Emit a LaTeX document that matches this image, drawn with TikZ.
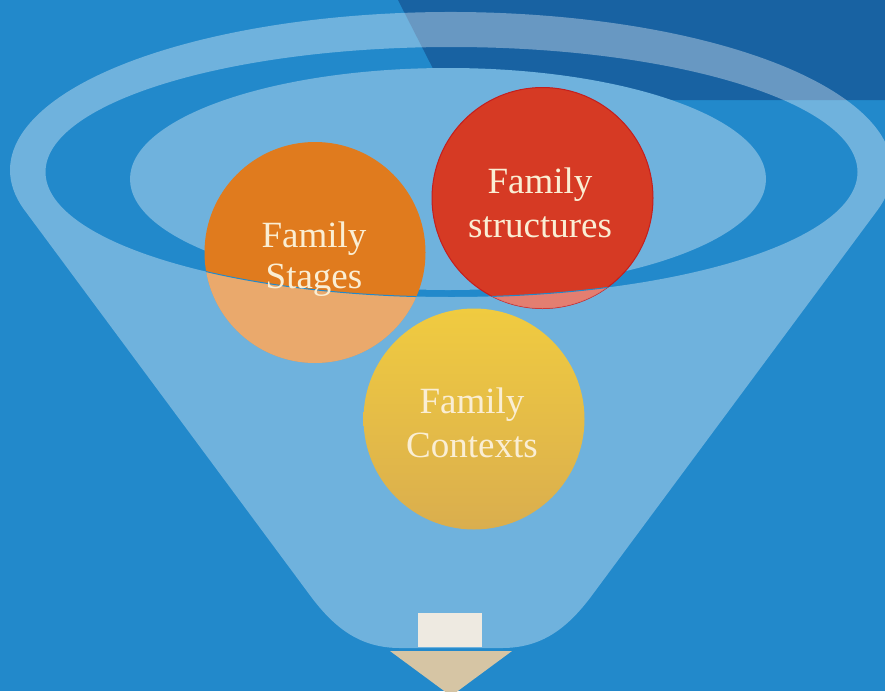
\documentclass[tikz,border=0pt]{standalone}
\usepackage{fontspec}
\setmainfont{Liberation Serif}
\begin{document}
\begin{tikzpicture}[x=1pt,y=1pt]
\definecolor{bgblue}{RGB}{34,137,203}
\definecolor{darkblue}{RGB}{24,98,162}
\definecolor{lightblue}{RGB}{111,178,221}
\definecolor{orangeC}{RGB}{224,123,30}
\definecolor{redC}{RGB}{214,58,36}
\definecolor{redE}{RGB}{196,30,30}
\definecolor{yellowT}{RGB}{240,203,64}
\definecolor{yellowB}{RGB}{218,174,78}
\definecolor{creamT}{RGB}{250,238,212}
\definecolor{shaftC}{RGB}{238,234,225}
\definecolor{headC}{RGB}{214,197,164}
\tikzset{
  ball/.style={circle, inner sep=0pt, minimum size=221pt},
  lbl/.style={font=\fontsize{37}{40}\selectfont, text=creamT, inner sep=0pt, anchor=base},
  veil/.style={white, fill opacity=0.35, even odd rule}
}
\useasboundingbox (0,0) rectangle (885,-691);
% background
\fill[bgblue] (0,0) rectangle (885,-691);
\fill[darkblue] (398,0) -- (885,0) -- (885,-100) -- (449,-100) -- cycle;
% funnel: outer rim + cone, minus the rim opening
\fill[veil] (23.9,-209.3) -- (312,-598)
  .. controls (335,-628) and (360,-648) .. (400,-648) -- (502,-648)
  .. controls (542,-648) and (567,-628) .. (590,-598) -- (878.1,-209.3)
  arc[start angle=-14.4, end angle=194.4, x radius=441pt, y radius=158pt] -- cycle
  (451.5,-172) ellipse [x radius=406pt, y radius=125pt];
% inner surface
\fill[lightblue] (448,-179) ellipse [x radius=318pt, y radius=111pt];
% circles
\node[ball, fill=orangeC] (stages) at (315,-252.5) {};
\node[ball, fill=redC, draw=redE, line width=1pt] (structures) at (542.5,-198) {};
% front part of rim over the circles
\begin{scope}
  \clip (stages.center) circle[radius=110.5pt];
  \fill[veil] (0,0) rectangle (885,-691) (451.5,-172) ellipse [x radius=406pt, y radius=125pt];
  \draw[bgblue, line width=1pt] (451.5,-172) ellipse [x radius=406pt, y radius=125pt];
\end{scope}
\begin{scope}
  \clip (structures.center) circle[radius=110.5pt];
  \fill[veil] (0,0) rectangle (885,-691) (451.5,-172) ellipse [x radius=406pt, y radius=125pt];
  \draw[bgblue, line width=1pt] (451.5,-172) ellipse [x radius=406pt, y radius=125pt];
\end{scope}
\node[ball, top color=yellowT, bottom color=yellowB] (contexts) at (474,-419) {};
% labels
\node[lbl] (stagesA) at (314,-247) {Family};
\node[lbl] (stagesB) at (314,-288) {Stages};
\node[lbl] (structA) at (540,-193) {Family};
\node[lbl] (structB) at (540,-237) {structures};
\node[lbl] (contA) at (472,-413) {Family};
\node[lbl] (contB) at (472,-457) {Contexts};
% output arrow
\fill[shaftC] (418,-613) rectangle (482,-647);
\fill[headC] (390,-651) -- (512,-651) -- (451,-696) -- cycle;
\end{tikzpicture}
\end{document}
